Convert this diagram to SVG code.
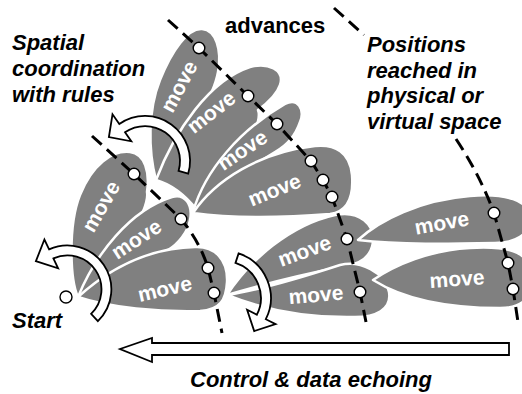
<svg xmlns="http://www.w3.org/2000/svg" width="522" height="394" viewBox="0 0 522 394">
  <style>
    .petal { fill: #808080; stroke: #ffffff; stroke-width: 2.5; stroke-linejoin: round; }
    .mv { font-family: "Liberation Sans", Arial, sans-serif; font-weight: bold; font-size: 21px; fill: #ffffff; text-anchor: middle; }
    .lbl { font-family: "Liberation Sans", Arial, sans-serif; font-weight: bold; font-size: 22px; fill: #000000; }
    .it { font-style: italic; }
    .trail { fill: none; stroke: #000000; stroke-width: 3; stroke-dasharray: 13 7; }
    .pt { fill: #ffffff; stroke: #000000; stroke-width: 1.4; }
    .turn { fill: #ffffff; stroke: #000000; stroke-width: 1.8; stroke-linejoin: miter; }
  </style>

  <rect width="522" height="394" fill="#ffffff"/>

  <!-- fan B (upper) -->
  <g id="petal-b1">
    <path class="petal" d="M156,180 C148,150 148,110 160,80 C172,50 188,28 202,29 C216,30 222,50 218,72 C214,95 190,135 156,180 Z"/>
    <text class="mv" transform="translate(180,87) rotate(-62)" y="6">move</text>
  </g>
  <g id="petal-b2">
    <path class="petal" d="M156,180 C175,130 210,80 250,67 C268,62 285,70 280,85 C276,97 265,105 258,110 C265,128 220,190 197,210 C185,195 170,184 156,180 Z"/>
    <text class="mv" transform="translate(212,113) rotate(-38)" y="6">move</text>
  </g>
  <g id="petal-b3">
    <path class="petal" d="M193,212 C205,170 240,130 285,104 C298,97 305,110 300,122 C296,134 288,145 275,152 C245,170 215,192 193,212 Z"/>
    <text class="mv" transform="translate(243,151) rotate(-34)" y="6">move</text>
  </g>
  <g id="petal-b4">
    <path class="petal" d="M193,213 C215,180 260,152 315,146 C335,144 350,152 352,175 C354,200 345,212 330,214 C280,218 230,218 193,213 Z"/>
    <text class="mv" transform="translate(275,191) rotate(-22)" y="6">move</text>
  </g>

  <!-- fan A (left, from the start point) -->
  <g id="petal-a1">
    <path class="petal" d="M78,297 C70,280 68,225 80,195 C92,165 112,150 130,152 C145,154 150,172 147,192 C150,210 120,255 78,297 Z"/>
    <text class="mv" transform="translate(102,207) rotate(-60)" y="6">move</text>
  </g>
  <g id="petal-a2">
    <path class="petal" d="M78,297 C95,255 130,210 172,197 C185,193 193,205 190,220 C188,232 178,244 168,250 C130,268 100,283 78,297 Z"/>
    <text class="mv" transform="translate(137,240) rotate(-33)" y="6">move</text>
  </g>
  <g id="petal-a3">
    <path class="petal" d="M78,297 C110,268 150,248 195,247 C215,246 228,260 227,282 C226,300 220,310 200,311 C160,312 110,308 78,297 Z"/>
    <text class="mv" transform="translate(165,290) rotate(-13)" y="6">move</text>
  </g>

  <!-- fan C (middle, lower) -->
  <g id="petal-c1">
    <path class="petal" d="M227,295 C250,260 290,225 335,215 C360,210 375,225 373,242 C371,258 360,264 345,266 C300,275 260,285 227,295 Z"/>
    <text class="mv" transform="translate(305,252) rotate(-20)" y="6">move</text>
  </g>
  <g id="petal-c2">
    <path class="petal" d="M227,295 C260,290 300,278 340,265 C360,260 385,272 389,292 C392,310 375,317 355,317 C310,318 265,310 227,295 Z"/>
    <text class="mv" transform="translate(316,296) rotate(-5)" y="6">move</text>
  </g>

  <!-- fan D (right) -->
  <g id="petal-d1">
    <path class="petal" d="M358,240 C380,220 420,200 470,196 C505,193 530,200 530,218 C530,235 515,243 495,243 C450,244 400,245 358,240 Z"/>
    <text class="mv" transform="translate(442,224) rotate(-10)" y="6">move</text>
  </g>
  <g id="petal-d2">
    <path class="petal" d="M373,280 C395,265 430,250 470,248 C505,246 530,250 532,275 C534,300 520,308 500,308 C450,308 405,300 373,280 Z"/>
    <text class="mv" transform="translate(457,280) rotate(-4)" y="6">move</text>
  </g>

  <!-- connectors: advance fronts, turning arrows, echo arrow -->
  <g id="connectors">
    <path class="trail" d="M92,136 L134,174 L181,219 Q200,242 208,268 L214,293 L222,333"/>
    <path class="trail" d="M168,20 L199,48 L248,96 L277,124 L311,161 L323,180 L332,197 L347,239 L360,292 L366,322"/>
    <path class="trail" d="M334,8 L364,35"/>
    <path class="trail" d="M456,139 Q480,175 494,213 L508,263 L513,289 L518,322"/>

    <path class="turn" d="M112.5,114.3 L108.9,137.1 L131.3,141.3 L125,132.3 A35,35 0 0 1 178.6,170.8 L188.2,173.6 A45,45 0 0 0 119.3,124 Z"/>
    <path class="turn" d="M44.4,239.5 L35.9,261.2 L58.1,268.3 L53.4,258.4 A34,34 0 0 1 91.1,313.8 L97.9,321.1 A44,44 0 0 0 49.1,249.4 Z"/>
    <path class="turn" d="M235.5,262.9 L238.6,253.4 A47,47 0 0 1 265.8,319.2 L275.6,324.1 L254.2,331.1 L247.1,309.7 L256.9,314.7 A37,37 0 0 0 235.5,262.9 Z"/>

    <path class="turn" stroke-width="2" d="M509,343 L509,355 L152,355 L152,362 L120,349 L152,338 L152,343 Z"/>
  </g>

  <!-- positions reached -->
  <g id="positions">
    <circle class="pt" cx="66" cy="297" r="6"/>
    <circle class="pt" cx="134" cy="174" r="5.8"/>
    <circle class="pt" cx="181" cy="219" r="5.8"/>
    <circle class="pt" cx="208" cy="268" r="5.8"/>
    <circle class="pt" cx="214" cy="293" r="5.8"/>
    <circle class="pt" cx="199" cy="48" r="5.8"/>
    <circle class="pt" cx="248" cy="96" r="5.8"/>
    <circle class="pt" cx="277" cy="124" r="5.8"/>
    <circle class="pt" cx="311" cy="161" r="5.8"/>
    <circle class="pt" cx="323" cy="180" r="5.8"/>
    <circle class="pt" cx="332" cy="197" r="5.8"/>
    <circle class="pt" cx="347" cy="239" r="5.8"/>
    <circle class="pt" cx="360" cy="292" r="5.8"/>
    <circle class="pt" cx="494" cy="213" r="5.8"/>
    <circle class="pt" cx="508" cy="263" r="5.8"/>
    <circle class="pt" cx="513" cy="289" r="5.8"/>
  </g>

  <!-- labels -->
  <g id="labels">
    <text class="lbl it" x="12" y="50">Spatial</text>
    <text class="lbl it" x="12" y="76">coordination</text>
    <text class="lbl it" x="12" y="102">with rules</text>
    <text class="lbl" x="225" y="33">advances</text>
    <text class="lbl it" x="367" y="52">Positions</text>
    <text class="lbl it" x="367" y="77.5">reached in</text>
    <text class="lbl it" x="367" y="103">physical or</text>
    <text class="lbl it" x="367" y="128.5">virtual space</text>
    <text class="lbl it" x="12" y="328">Start</text>
    <text class="lbl it" x="190" y="387">Control &amp; data echoing</text>
  </g>
</svg>
